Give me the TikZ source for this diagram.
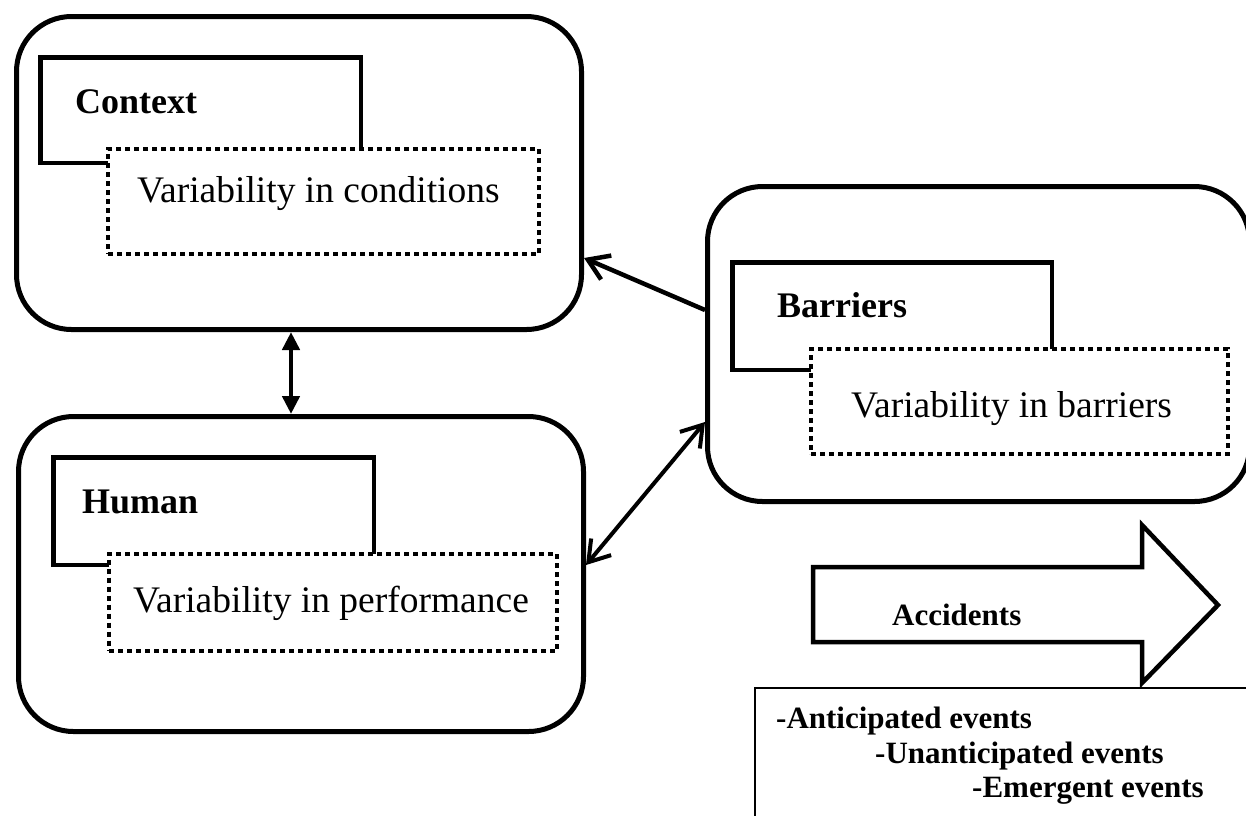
\documentclass[tikz,border=0pt]{standalone}
\usepackage{fontspec}
\setmainfont{Liberation Serif}
\usetikzlibrary{arrows.meta}
\begin{document}
\begin{tikzpicture}[x=1pt,y=-1pt,
  outerbox/.style={draw, line width=5pt, rounded corners=55pt, inner sep=0pt, fill=white},
  tabbox/.style={draw, line width=4.5pt, inner sep=0pt},
  dotbox/.style={draw, line width=4pt, dash pattern=on 5pt off 4pt, fill=white, inner sep=0pt},
  lbl/.style={anchor=base west, inner sep=0pt, font=\fontsize{36}{43}\selectfont\bfseries},
  vtxt/.style={anchor=base west, inner sep=0pt, font=\fontsize{37.5}{45}\selectfont},
  evt/.style={anchor=base west, inner sep=0pt, font=\fontsize{31}{37}\selectfont\bfseries},
  con/.style={line width=4.5pt},
  tipB/.tip={Straight Barb[length=20pt,width=26pt]},
  tipT/.tip={Triangle[length=18pt,width=17pt]},
]
\useasboundingbox (0,0) rectangle (1246,815);

% Context
\node[outerbox, minimum width=565pt, minimum height=313pt] (ctx) at (299,173) {};
\node[tabbox, minimum width=320.5pt, minimum height=105.5pt] (ctxtab) at (200.5,110) {};
\node[dotbox, minimum width=431pt, minimum height=105pt] (ctxdot) at (323.5,201.5) {};
\node[lbl] (ctxlbl) at (75,113) {Context};
\node[vtxt] (ctxtxt) at (137,202) {Variability in conditions};

% Human
\node[outerbox, minimum width=565pt, minimum height=315pt] (hum) at (301,574) {};
\node[tabbox, minimum width=320.5pt, minimum height=107.5pt] (humtab) at (213.5,511) {};
\node[dotbox, minimum width=448pt, minimum height=97pt] (humdot) at (333,602) {};
\node[lbl] (humlbl) at (82,513) {Human};
\node[vtxt] (humtxt) at (133,612) {Variability in performance};

% Barriers
\node[outerbox, minimum width=542pt, minimum height=315pt] (bar) at (978.5,344) {};
\node[tabbox, minimum width=319.5pt, minimum height=107.5pt] (bartab) at (892,316) {};
\node[dotbox, minimum width=417pt, minimum height=105pt] (bardot) at (1019.5,401.5) {};
\node[lbl] (barlbl) at (777,317) {Barriers};
\node[vtxt] (bartxt) at (851,417) {Variability in barriers};

% connectors
\draw[con, tipT-tipT] ([xshift=-8pt]ctx.south) -- ([xshift=-8pt]ctx.south |- hum.north);
\draw[con, -tipB] ([yshift=34pt]bar.west) -- ([yshift=-85pt]ctx.east);
\draw[line width=4pt, tipB-tipB] ([yshift=9pt]hum.east) -- ([yshift=-78pt]bar.west);

% Block arrow
\draw[line width=4.5pt, line join=miter, fill=white]
  (813,567) -- (1142,567) -- (1142,525) -- (1218,605) -- (1142,683) -- (1142,642) -- (813,642) -- cycle;
\node[evt] (acc) at (892,625) {Accidents};

% Events box
\node[draw, line width=2pt, inner sep=0pt, anchor=north west, minimum width=560pt, minimum height=200pt] (events) at (754,687) {};
\node[evt] (ev1) at (776,728) {-Anticipated events};
\node[evt] (ev2) at (875,763) {-Unanticipated events};
\node[evt] (ev3) at (972,797) {-Emergent events};
\end{tikzpicture}
\end{document}
